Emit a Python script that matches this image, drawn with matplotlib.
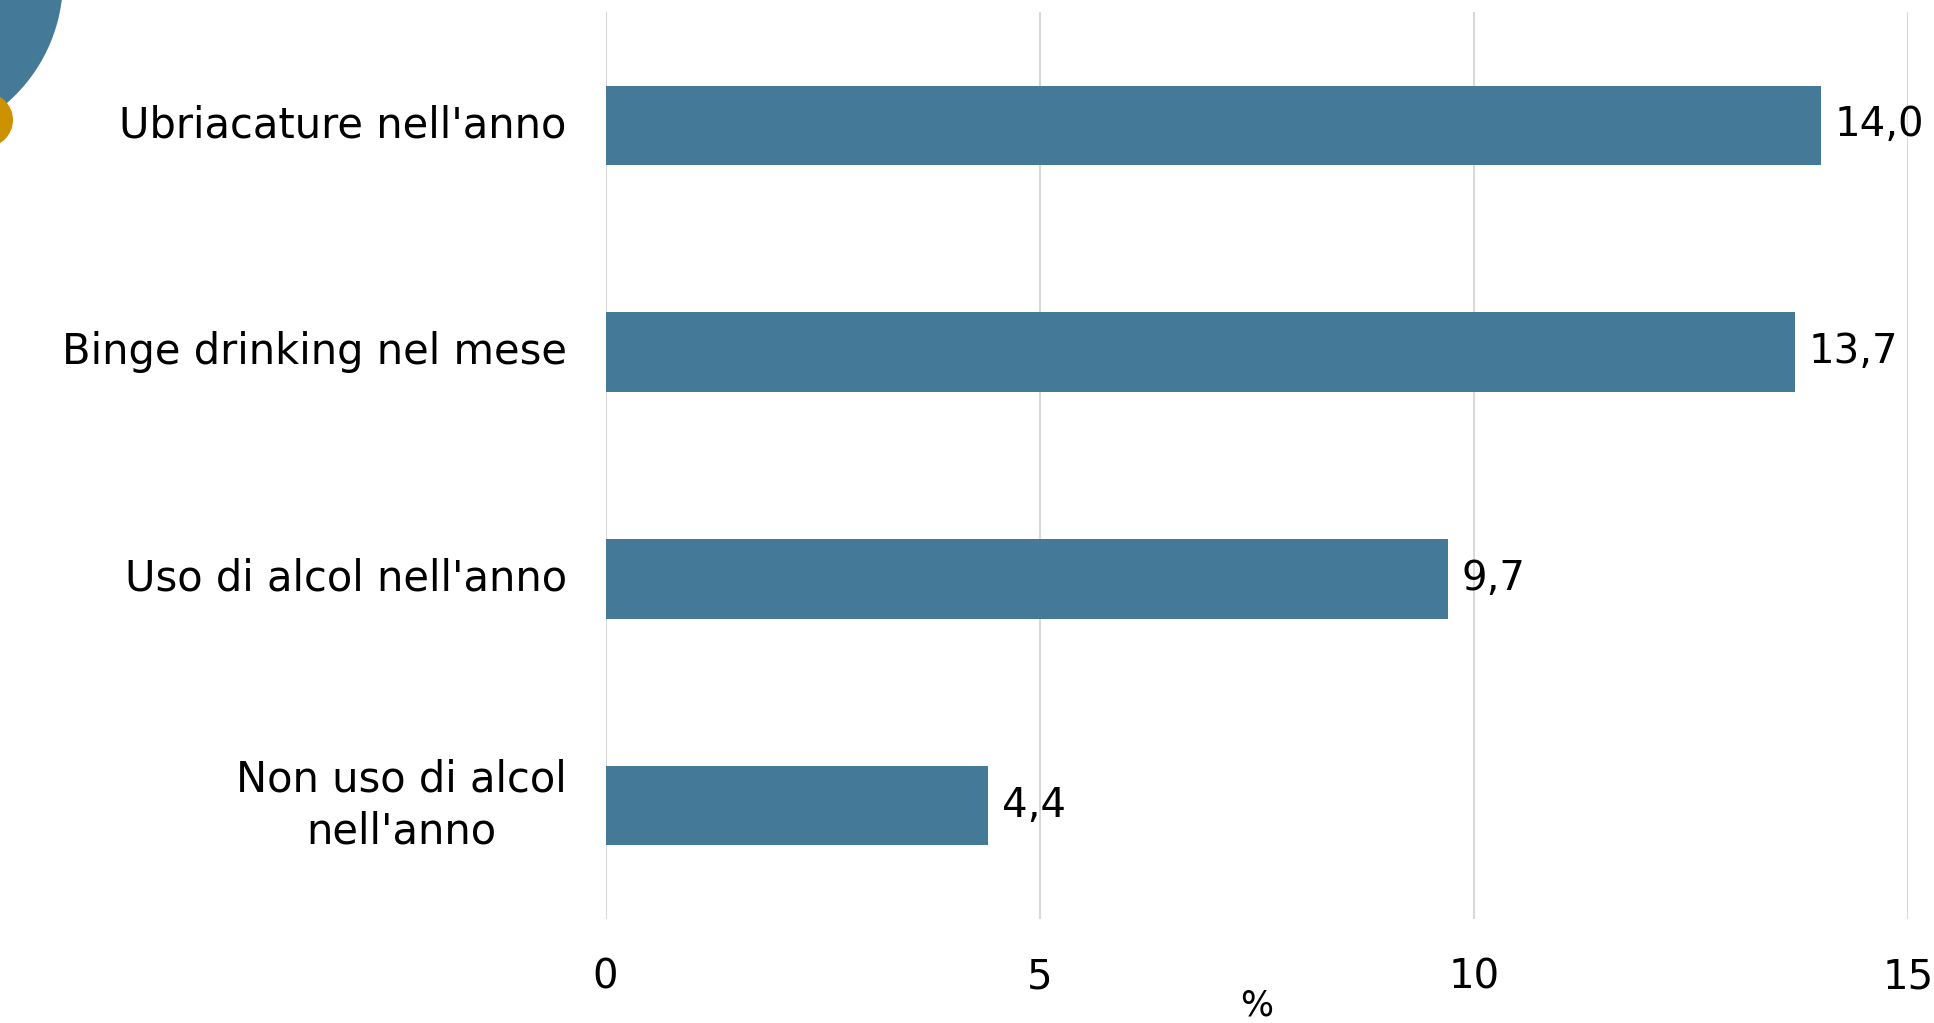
import matplotlib
matplotlib.use('Agg')
import matplotlib.pyplot as plt
from matplotlib.patches import Circle

categories = ["Ubriacature nell'anno", "Binge drinking nel mese",
              "Uso di alcol nell'anno", "Non uso di alcol\nnell'anno"]
values = [14.0, 13.7, 9.7, 4.4]
value_labels = ["14,0", "13,7", "9,7", "4,4"]
xticks = [0, 5, 10, 15]

BAR = '#447a98'
GOLD = '#cc9200'

plt.rcParams['font.family'] = ['DejaVu Sans']

W, H = 1934, 1023
fig = plt.figure(figsize=(W / 100, H / 100), dpi=100)

# decorative circles in the top-left corner (pixel coordinates)
deco = fig.add_axes([0, 0, 1, 1], zorder=0)
deco.set_xlim(0, W)
deco.set_ylim(H, 0)
deco.set_aspect('equal')
deco.axis('off')
deco.add_patch(Circle((-100, -20), 163, color=BAR, lw=0))
deco.add_patch(Circle((-14, 120), 27, color=GOLD, lw=0))

ax = fig.add_axes([605.6 / W, 1 - 919 / H, (1908 - 605.6) / W, (919 - 12) / H], zorder=1)
ax.patch.set_alpha(0)

ypos = list(range(len(categories)))
ax.barh(ypos, values, height=0.35, color=BAR, zorder=2)
for y, v, lab in zip(ypos, values, value_labels):
    ax.annotate(lab, (v, y), xytext=(10, 0), textcoords='offset points',
                va='center', ha='left', fontsize=29, color='black')

ax.set_xlim(0, 15)
ax.set_ylim(3.5, -0.5)
ax.set_xticks(xticks)
ax.set_xticklabels([str(t) for t in xticks], fontsize=29)
ax.set_yticks(ypos)
ax.set_yticklabels(categories, fontsize=30, multialignment='center', linespacing=1.3)
for lbl in ax.get_yticklabels():
    lbl.set_va('center')
ax.tick_params(axis='both', length=0)
ax.tick_params(axis='y', pad=28)
ax.tick_params(axis='x', pad=28)
ax.xaxis.grid(True, color='#d9d9d9', linewidth=1.5, zorder=0)
ax.set_axisbelow(True)
for s in ax.spines.values():
    s.set_visible(False)

fig.text(1257 / W, 1 - 1005 / H, '%', fontsize=25, ha='center', va='center')

fig.savefig('out.png', dpi=100)
